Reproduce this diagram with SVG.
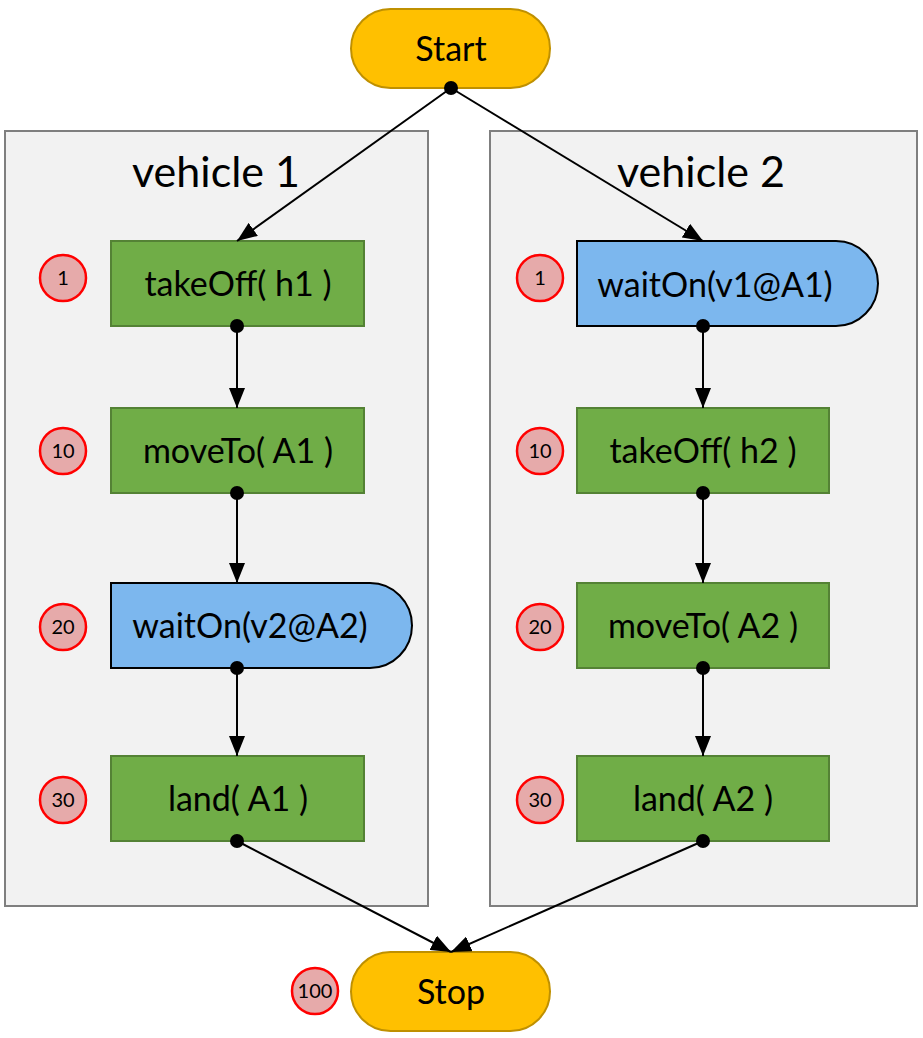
<svg xmlns="http://www.w3.org/2000/svg" width="923" height="1038" viewBox="0 0 923 1038">
<defs>
<marker id="arr" viewBox="0 0 20 16" refX="20" refY="8" markerWidth="20" markerHeight="16" markerUnits="userSpaceOnUse" orient="auto"><path d="M0,0 L20,8 L0,16 z" fill="#000"/></marker>
<style>
text{font-family:Lato,"Open Sans","Liberation Sans",sans-serif;fill:#000;text-anchor:middle;}
.pill{fill:#FFC000;stroke:#BF9000;stroke-width:2;}
.grp{fill:#F2F2F2;stroke:#7F7F7F;stroke-width:2;}
.act{fill:#70AD47;stroke:#548235;stroke-width:2;}
.wait{fill:#7CB7EE;stroke:#000;stroke-width:2;}
.num{fill:#E6AAAA;stroke:#FF0000;stroke-width:2.5;}
.lbl{font-size:34px;}
.nl{font-size:20px;}
.title{font-size:43px;}
.c{stroke:#000;stroke-width:2;fill:none;}
</style>
</defs>
<rect width="923" height="1038" fill="#fff"/>
<g id="vehicle1"><rect class="grp" x="5" y="131" width="423" height="775"/><text class="title" x="216" y="187">vehicle 1</text></g>
<g id="vehicle2"><rect class="grp" x="490" y="131" width="427" height="775"/><text class="title" x="701" y="187">vehicle 2</text></g>
<g id="start"><rect class="pill" x="351" y="9" width="199" height="79" rx="39.5"/><text class="lbl" x="451" y="61">Start</text></g>
<g id="stop"><rect class="pill" x="351" y="952" width="199" height="79" rx="39.5"/><text class="lbl" x="451" y="1004">Stop</text></g>
<g id="n100"><circle class="num" cx="315" cy="991" r="23"/><text class="nl" x="315" y="998">100</text></g>
<g id="v1n1"><rect class="act" x="111" y="241" width="253" height="85"/><text class="lbl" x="238" y="296">takeOff( h1 )</text><circle class="num" cx="63" cy="278" r="23"/><text class="nl" x="63" y="285">1</text></g>
<g id="v1n10"><rect class="act" x="111" y="408" width="253" height="85"/><text class="lbl" x="238" y="463">moveTo( A1 )</text><circle class="num" cx="63" cy="451" r="23"/><text class="nl" x="63" y="458">10</text></g>
<g id="v1n20"><path class="wait" d="M111,583 H370 A42,42.5 0 0 1 370,668 H111 Z"/><text class="lbl" x="250" y="638">waitOn(v2@A2)</text><circle class="num" cx="63" cy="627" r="23"/><text class="nl" x="63" y="634">20</text></g>
<g id="v1n30"><rect class="act" x="111" y="756" width="253" height="85"/><text class="lbl" x="238" y="811">land( A1 )</text><circle class="num" cx="63" cy="800" r="23"/><text class="nl" x="63" y="807">30</text></g>
<g id="v2n1"><path class="wait" d="M577,241 H836 A42,42.5 0 0 1 836,326 H577 Z"/><text class="lbl" x="715" y="297">waitOn(v1@A1)</text><circle class="num" cx="540" cy="278" r="23"/><text class="nl" x="540" y="285">1</text></g>
<g id="v2n10"><rect class="act" x="577" y="408" width="252" height="85"/><text class="lbl" x="703" y="463">takeOff( h2 )</text><circle class="num" cx="540" cy="451" r="23"/><text class="nl" x="540" y="458">10</text></g>
<g id="v2n20"><rect class="act" x="577" y="583" width="252" height="85"/><text class="lbl" x="703" y="638">moveTo( A2 )</text><circle class="num" cx="540" cy="627" r="23"/><text class="nl" x="540" y="634">20</text></g>
<g id="v2n30"><rect class="act" x="577" y="756" width="252" height="85"/><text class="lbl" x="703" y="811">land( A2 )</text><circle class="num" cx="540" cy="800" r="23"/><text class="nl" x="540" y="807">30</text></g>
<g id="connectors">
<line class="c" x1="451" y1="88" x2="237" y2="241" marker-end="url(#arr)"/>
<line class="c" x1="451" y1="88" x2="703" y2="241" marker-end="url(#arr)"/>
<line class="c" x1="237" y1="326" x2="237" y2="408" marker-end="url(#arr)"/>
<line class="c" x1="237" y1="493" x2="237" y2="583" marker-end="url(#arr)"/>
<line class="c" x1="237" y1="668" x2="237" y2="756" marker-end="url(#arr)"/>
<line class="c" x1="237" y1="841" x2="451" y2="952" marker-end="url(#arr)"/>
<line class="c" x1="703" y1="326" x2="703" y2="408" marker-end="url(#arr)"/>
<line class="c" x1="703" y1="493" x2="703" y2="583" marker-end="url(#arr)"/>
<line class="c" x1="703" y1="668" x2="703" y2="756" marker-end="url(#arr)"/>
<line class="c" x1="703" y1="841" x2="451" y2="952" marker-end="url(#arr)"/>
<circle cx="451" cy="88" r="7" fill="#000"/>
<circle cx="237" cy="326" r="7" fill="#000"/>
<circle cx="237" cy="493" r="7" fill="#000"/>
<circle cx="237" cy="668" r="7" fill="#000"/>
<circle cx="237" cy="841" r="7" fill="#000"/>
<circle cx="703" cy="326" r="7" fill="#000"/>
<circle cx="703" cy="493" r="7" fill="#000"/>
<circle cx="703" cy="668" r="7" fill="#000"/>
<circle cx="703" cy="841" r="7" fill="#000"/>
</g>
</svg>
